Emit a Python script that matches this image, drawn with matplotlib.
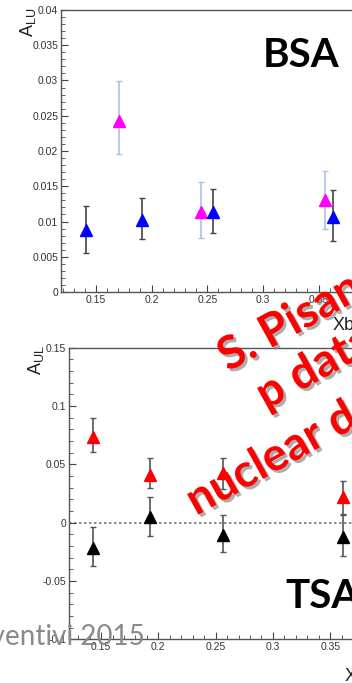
import numpy as np
import matplotlib
matplotlib.use("Agg")
import matplotlib.pyplot as plt
import matplotlib.patheffects as pe
from matplotlib.ticker import MultipleLocator, FuncFormatter

plt.rcParams['font.family'] = ['Liberation Sans', 'DejaVu Sans']
plt.rcParams['mathtext.default'] = 'regular'

# BSA panel (top)
bsa_blue_x = [0.141, 0.191, 0.2553, 0.3625]
bsa_blue_y = [0.0088, 0.0102, 0.0113, 0.0107]
bsa_blue_lo = [0.0056, 0.0075, 0.0084, 0.0073]
bsa_blue_hi = [0.0122, 0.0134, 0.0146, 0.0145]

bsa_mag_x = [0.171, 0.244, 0.3556]
bsa_mag_y = [0.0243, 0.0114, 0.0131]
bsa_mag_lo = [0.0196, 0.0076, 0.0089]
bsa_mag_hi = [0.0299, 0.0156, 0.0172]

# TSA panel (bottom)
tsa_red_x = [0.143, 0.193, 0.256, 0.361]
tsa_red_y = [0.0732, 0.0409, 0.0424, 0.0218]
tsa_red_lo = [0.0604, 0.0295, 0.0290, 0.0075]
tsa_red_hi = [0.0895, 0.0552, 0.0552, 0.0360]

tsa_blk_x = [0.143, 0.193, 0.256, 0.361]
tsa_blk_y = [-0.0220, 0.0051, -0.0105, -0.0120]
tsa_blk_lo = [-0.0371, -0.0117, -0.0249, -0.0290]
tsa_blk_hi = [-0.0034, 0.0223, 0.0066, 0.0066]

W, H = 352, 683
fig = plt.figure(figsize=(W / 100, H / 100), dpi=100)


def errs(y, lo, hi):
    y = np.array(y)
    return [y - np.array(lo), np.array(hi) - y]


def style(ax, fmt):
    ax.spines['right'].set_visible(False)
    for s in ['left', 'bottom', 'top']:
        ax.spines[s].set_color('#555555')
        ax.spines[s].set_linewidth(1.0)
    ax.tick_params(which='both', direction='in', colors='#444444', labelcolor='#333333',
                   labelsize=7.5, pad=2, top=False, right=False)
    ax.tick_params(which='major', length=5)
    ax.tick_params(which='minor', length=3)
    ax.xaxis.set_major_locator(MultipleLocator(0.05))
    ax.xaxis.set_minor_locator(MultipleLocator(0.01))
    ax.xaxis.set_major_formatter(FuncFormatter(lambda v, p: '%g' % round(v, 4)))
    ax.yaxis.set_major_formatter(FuncFormatter(fmt))


# top panel
ax1 = fig.add_axes([61 / W, (H - 292) / H, 1 - 61 / W, (292 - 10) / H])
ax1.set_xlim(0.1186, 0.380)
ax1.set_ylim(0, 0.04)
style(ax1, lambda v, p: '%g' % round(v, 4))
ax1.yaxis.set_major_locator(MultipleLocator(0.005))
ax1.yaxis.set_minor_locator(MultipleLocator(0.001))

ax1.errorbar(bsa_mag_x, bsa_mag_y, yerr=errs(bsa_mag_y, bsa_mag_lo, bsa_mag_hi),
             fmt='^', color='#ff00ff', ms=8.5, ecolor='#a9c1ee', elinewidth=1.2,
             capsize=2, capthick=1)
ax1.errorbar(bsa_blue_x, bsa_blue_y, yerr=errs(bsa_blue_y, bsa_blue_lo, bsa_blue_hi),
             fmt='^', color='#0000ff', ms=8.5, ecolor='#444444', elinewidth=1.2,
             capsize=2, capthick=1)

# bottom panel
ax2 = fig.add_axes([69 / W, (H - 639.3) / H, 1 - 69 / W, (639.3 - 347.7) / H])
ax2.set_xlim(0.122, 0.369)
ax2.set_ylim(-0.1, 0.15)
style(ax2, lambda v, p: '%g' % round(v, 4))
ax2.yaxis.set_major_locator(MultipleLocator(0.05))
ax2.yaxis.set_minor_locator(MultipleLocator(0.01))
ax2.axhline(0, color='#777777', lw=1.2, ls=(0, (1.5, 1.5)), zorder=1)

ax2.errorbar(tsa_red_x, tsa_red_y, yerr=errs(tsa_red_y, tsa_red_lo, tsa_red_hi),
             fmt='^', color='#ff0000', ms=8.5, ecolor='#555555', elinewidth=1.2,
             capsize=2, capthick=1)
ax2.errorbar(tsa_blk_x, tsa_blk_y, yerr=errs(tsa_blk_y, tsa_blk_lo, tsa_blk_hi),
             fmt='^', color='#000000', ms=8.5, ecolor='#555555', elinewidth=1.2,
             capsize=2, capthick=1)

# axis titles (ROOT style)
fig.text(38 / W, 1 - 8 / H, '$A_{LU}$', rotation=90, ha='right', va='top',
         fontsize=13, color='#222222')
fig.text(46 / W, 1 - 345 / H, '$A_{UL}$', rotation=90, ha='right', va='top',
         fontsize=13, color='#222222')
fig.text(333 / W, 1 - 330 / H, 'Xb', fontsize=13, color='#222222', va='baseline')
fig.text(345 / W, 1 - 681 / H, 'Xb', fontsize=13, color='#222222', va='baseline')

# panel tags
fig.text(263 / W, 1 - 66.7 / H, 'BSA', family=['Lato', 'DejaVu Sans'], fontweight='bold',
         fontsize=29, va='baseline', color='black')
fig.text(285 / W, 1 - 608 / H, 'TSA', family=['Lato', 'DejaVu Sans'], fontweight='bold',
         fontsize=29, va='baseline', color='black')

# footer
fig.text(145 / W, 1 - 645 / H, 'Preventivi 2015', family=['Lato', 'DejaVu Sans'],
         fontsize=20, color='#8a8a8a', ha='right', va='baseline')

# red overlay
shadow = [pe.withSimplePatchShadow(offset=(2, -2), shadow_rgbFace='#777777', alpha=0.6)]
for txt, (px, py) in [('S. Pisano', (228, 372)), ('p data', (266, 410)),
                      ('nuclear data', (196, 516))]:
    fig.text(px / W, 1 - py / H, txt, family=['Lato', 'DejaVu Sans'], fontweight='bold',
             fontsize=33, color='#ff0000', rotation=29, rotation_mode='anchor',
             ha='left', va='baseline', path_effects=shadow)

fig.savefig('out.png', dpi=100)
